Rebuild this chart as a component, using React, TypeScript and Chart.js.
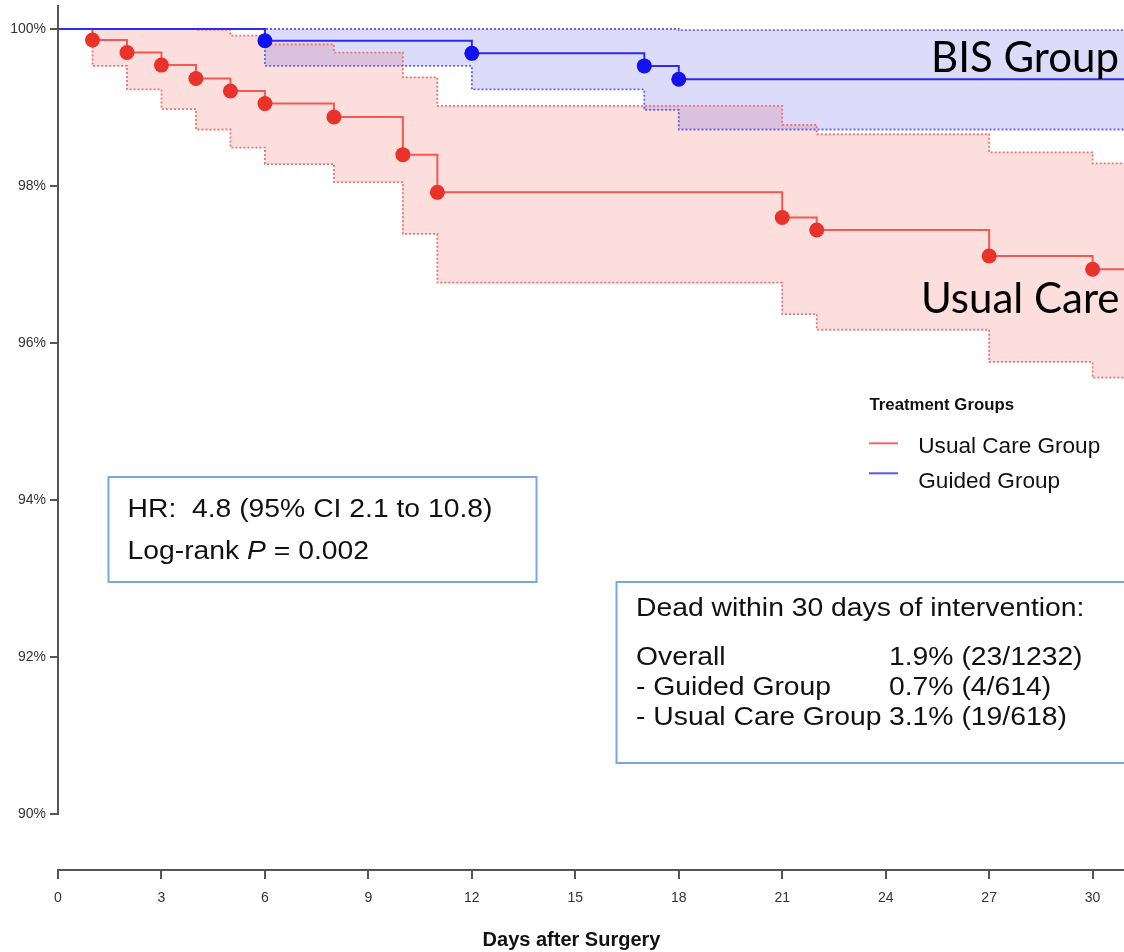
import React, { useEffect, useRef } from 'react';
import { Chart, registerables } from 'chart.js';

Chart.register(...registerables);

// ---------- data ----------
const dayTicks = [0, 3, 6, 9, 12, 15, 18, 21, 24, 27, 30];
const survTicks = [90, 92, 94, 96, 98, 100];

// Usual care group (Kaplan-Meier estimate, % alive)
const usualDays = [0, 1, 2, 3, 4, 5, 6, 8, 10, 11, 21, 22, 27, 30, 31];
const usualSurv = [100, 99.86, 99.70, 99.54, 99.37, 99.21, 99.05, 98.88, 98.40, 97.92, 97.60, 97.44, 97.11, 96.94, 96.94];
const usualUpperDays = [0, 4, 5, 6, 8, 10, 11, 21, 22, 27, 30, 31];
const usualUpper = [100, 99.99, 99.915, 99.805, 99.70, 99.385, 99.02, 98.78, 98.66, 98.43, 98.29, 98.29];
const usualLowerDays = [0, 1, 2, 3, 4, 5, 6, 8, 10, 11, 21, 22, 27, 30, 31];
const usualLower = [100, 99.53, 99.23, 98.98, 98.72, 98.49, 98.28, 98.05, 97.39, 96.77, 96.37, 96.17, 95.76, 95.56, 95.56];

// Guided (BIS) group
const guidedDays = [0, 6, 12, 17, 18, 31];
const guidedSurv = [100, 99.85, 99.69, 99.53, 99.36, 99.36];
const guidedUpperDays = [0, 18, 31];
const guidedUpper = [100, 99.985, 99.985];
const guidedLowerDays = [0, 6, 12, 17, 18, 31];
const guidedLower = [100, 99.53, 99.23, 98.97, 98.72, 98.72];

// texts
const legendTitle = 'Treatment Groups';
const legendLabels = ['Usual Care Group', 'Guided Group'];
const xTitle = 'Days after Surgery';
const deadTitle = 'Dead within 30 days of intervention:';
const deadRows = ['Overall', '- Guided Group', '- Usual Care Group'];
const deadValues = ['1.9% (23/1232)', '0.7% (4/614)', '3.1% (19/618)'];

// ---------- layout / style constants ----------
const X_MAX = 30.91;
const Y_MIN = 89.2907;
const Y_MAX = 100.3056;
const SANS = '"Liberation Sans", Arial, Helvetica, sans-serif';

const RED_LINE = '#f05a52';
const RED_DOT = '#e8322a';
const RED_DOTTED = '#f07272';
const RED_FILL = 'rgba(240,90,80,0.2)';
const BLUE_LINE = '#2b2bf5';
const BLUE_DOT = '#1212ee';
const BLUE_DOTTED = '#6262f0';
const BLUE_FILL = 'rgba(80,80,230,0.2)';

const toPts = (xs: number[], ys: number[]) => xs.map((x, i) => ({ x, y: ys[i] }));

function drawText(
  ctx: CanvasRenderingContext2D,
  text: string,
  x: number,
  y: number,
  font: string,
  color: string,
  sx = 1,
  align: CanvasTextAlign = 'left'
): number {
  ctx.save();
  ctx.font = font;
  ctx.fillStyle = color;
  ctx.textBaseline = 'alphabetic';
  ctx.textAlign = align;
  ctx.translate(x, y);
  ctx.scale(sx, 1);
  ctx.fillText(text, 0, 0);
  const w = ctx.measureText(text).width * sx;
  ctx.restore();
  return w;
}

const overlayPlugin = {
  id: 'overlay',
  afterDraw(chart: any) {
    const { ctx, chartArea, scales } = chart;
    const ys = scales.y;

    // y axis line (only from top down to the lowest tick)
    ctx.save();
    ctx.strokeStyle = '#555';
    ctx.lineWidth = 2;
    ctx.beginPath();
    const ax = Math.round(chartArea.left);
    ctx.moveTo(ax, chartArea.top);
    ctx.lineTo(ax, Math.round(ys.getPixelForValue(survTicks[0])) + 1);
    ctx.stroke();
    ctx.restore();

    // x axis title
    drawText(ctx, xTitle, 571.5, 945.5, `bold 20px ${SANS}`, '#111', 1, 'center');

    // big group labels
    drawText(ctx, 'BIS Group', 1119, 72, '42px Lato, "Open Sans", sans-serif', '#000', 1, 'right');
    drawText(ctx, 'Usual Care', 1119.5, 312.5, '42px Lato, "Open Sans", sans-serif', '#000', 1, 'right');

    // legend
    drawText(ctx, legendTitle, 869.5, 409.5, `bold 16.8px ${SANS}`, '#111');
    ctx.save();
    ctx.lineWidth = 2;
    ctx.strokeStyle = '#f06868';
    ctx.beginPath();
    ctx.moveTo(869, 443.3);
    ctx.lineTo(898, 443.3);
    ctx.stroke();
    ctx.strokeStyle = '#5858f0';
    ctx.beginPath();
    ctx.moveTo(869, 473.3);
    ctx.lineTo(898, 473.3);
    ctx.stroke();
    ctx.restore();
    drawText(ctx, legendLabels[0], 918.3, 452.7, `21.5px ${SANS}`, '#111', 1.05);
    drawText(ctx, legendLabels[1], 918.3, 487.7, `21.5px ${SANS}`, '#111', 1.05);

    // HR box
    ctx.save();
    ctx.strokeStyle = '#7aa6dc';
    ctx.lineWidth = 2;
    ctx.strokeRect(108.5, 477, 428, 105);
    ctx.strokeRect(616.5, 582, 520, 181);
    ctx.restore();

    const boxFont = `25.5px ${SANS}`;
    const boxSx = 1.11;
    drawText(ctx, 'HR:  4.8 (95% CI 2.1 to 10.8)', 127.5, 517, boxFont, '#111', boxSx);
    let x = 127.5;
    x += drawText(ctx, 'Log-rank ', x, 558.5, boxFont, '#111', boxSx);
    x += drawText(ctx, 'P', x, 558.5, `italic 25.5px ${SANS}`, '#111', boxSx);
    drawText(ctx, ' = 0.002', x, 558.5, boxFont, '#111', boxSx);

    // dead within 30 days box
    drawText(ctx, deadTitle, 636, 616, boxFont, '#111', boxSx);
    const baselines = [665, 695, 725];
    deadRows.forEach((r, i) => {
      drawText(ctx, r, 636, baselines[i], boxFont, '#111', boxSx);
      drawText(ctx, deadValues[i], 889, baselines[i], boxFont, '#111', boxSx);
    });
  },
};

export default function App() {
  const ref = useRef<HTMLCanvasElement>(null);

  useEffect(() => {
    if (!ref.current) return;
    const lastIdx = (n: number) => n - 1;
    const kmRadius = (n: number) => (c: any) => (c.dataIndex === 0 || c.dataIndex === lastIdx(n) ? 0 : 7.5);

    const band = (xs: number[], ys: number[], color: string, fill: any, bg: string) => ({
      type: 'line' as const,
      data: toPts(xs, ys),
      borderColor: color,
      borderWidth: 1.8,
      borderDash: [2, 2],
      pointRadius: 0,
      pointHoverRadius: 0,
      stepped: 'before' as const,
      fill,
      backgroundColor: bg,
    });

    const tickFont = { family: SANS, size: 14 };

    const chart = new Chart(ref.current, {
      type: 'line',
      data: {
        datasets: [
          {
            data: toPts(guidedDays, guidedSurv),
            borderColor: BLUE_LINE,
            borderWidth: 2,
            stepped: 'before',
            fill: false,
            pointRadius: kmRadius(guidedDays.length),
            pointHoverRadius: kmRadius(guidedDays.length),
            pointBackgroundColor: BLUE_DOT,
            pointBorderWidth: 0,
          },
          {
            data: toPts(usualDays, usualSurv),
            borderColor: RED_LINE,
            borderWidth: 2,
            stepped: 'before',
            fill: false,
            pointRadius: kmRadius(usualDays.length),
            pointHoverRadius: kmRadius(usualDays.length),
            pointBackgroundColor: RED_DOT,
            pointBorderWidth: 0,
          },
          band(guidedUpperDays, guidedUpper, BLUE_DOTTED, '+1', BLUE_FILL),
          band(guidedLowerDays, guidedLower, BLUE_DOTTED, false, 'transparent'),
          band(usualUpperDays, usualUpper, RED_DOTTED, '+1', RED_FILL),
          band(usualLowerDays, usualLower, RED_DOTTED, false, 'transparent'),
        ] as any,
      },
      options: {
        responsive: false,
        maintainAspectRatio: false,
        animation: false,
        devicePixelRatio: 1,
        events: [],
        layout: { padding: { top: 5, left: 0, right: 0, bottom: 0 } },
        plugins: {
          legend: { display: false },
          tooltip: { enabled: false },
          filler: { drawTime: 'beforeDatasetsDraw' },
        } as any,
        scales: {
          x: {
            type: 'linear',
            min: 0,
            max: X_MAX,
            bounds: 'data',
            afterBuildTicks: (s: any) => {
              s.ticks = dayTicks.map((v) => ({ value: v }));
            },
            afterFit: (s: any) => {
              s.height = 82;
              s.paddingLeft = 0;
              s.paddingRight = 0;
              s.paddingTop = 0;
              s.paddingBottom = 0;
            },
            grid: { drawOnChartArea: false, drawTicks: true, tickLength: 9, color: '#555', lineWidth: 2 },
            border: { display: true, color: '#555', width: 2 },
            ticks: {
              autoSkip: false,
              maxRotation: 0,
              padding: 11,
              color: '#333',
              font: tickFont,
              callback: (v: any) => String(v),
            },
          },
          y: {
            type: 'linear',
            min: Y_MIN,
            max: Y_MAX,
            bounds: 'data',
            afterBuildTicks: (s: any) => {
              s.ticks = survTicks.map((v) => ({ value: v }));
            },
            afterFit: (s: any) => {
              s.width = 58;
              s.paddingLeft = 0;
              s.paddingRight = 0;
              s.paddingTop = 0;
              s.paddingBottom = 0;
            },
            grid: { drawOnChartArea: false, drawTicks: true, tickLength: 8, color: '#555', lineWidth: 2 },
            border: { display: false },
            ticks: {
              autoSkip: false,
              padding: 4,
              color: '#333',
              font: tickFont,
              callback: (v: any) => `${v}%`,
            },
          },
        } as any,
      },
      plugins: [overlayPlugin],
    });
    return () => chart.destroy();
  }, []);

  return (
    <div style={{ position: 'absolute', left: 0, top: 0, width: 1124, height: 952, background: '#fff' }}>
      <canvas ref={ref} width={1124} height={952} style={{ display: 'block', width: 1124, height: 952 }} />
    </div>
  );
}
